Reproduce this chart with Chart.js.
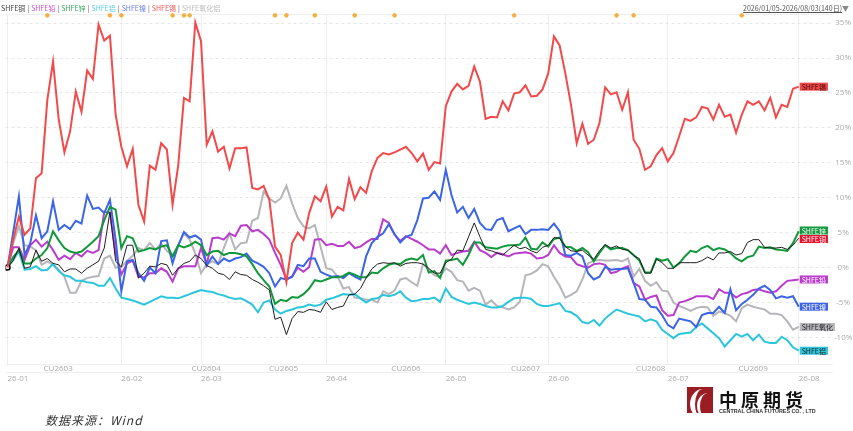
<!DOCTYPE html>
<html>
<head>
<meta charset="utf-8">
<script src="https://cdn.jsdelivr.net/npm/chart.js@4.4.1/dist/chart.umd.min.js"></script>
<style>
body { margin: 0; background: #fff; font-family: "Noto Sans CJK SC", "Noto Sans", sans-serif; }
#wrap { position: relative; width: 853px; height: 431px; overflow: hidden; }
#c { position: absolute; left: 0; top: 0; }
.legend { position: absolute; left: 1px; top: 3px; font-size: 7px; white-space: nowrap; color: #555; }
.legend .sep { color: #555; margin: 0 2px; }
.range { position: absolute; right: 4px; top: 3px; font-size: 7px; color: #555; white-space: nowrap; }
.range u { text-decoration: underline; }
.range span { color: #888; font-size: 7px; }
.source { position: absolute; left: 45px; top: 411px; font-size: 12px; font-style: italic; color: #333; letter-spacing: 1px; }
.logo-icon { position: absolute; left: 687px; top: 387px; width: 26px; height: 26px; background: #9c1c24; overflow: hidden; }
.logo-icon .c1 { position: absolute; left: 3px; top: 2px; width: 26px; height: 30px; border-radius: 50%; border-left: 5px solid #fff; box-sizing: border-box; }
.logo-icon .c2 { position: absolute; left: 10px; top: 6px; width: 22px; height: 26px; border-radius: 50%; border-left: 3px solid #fff; box-sizing: border-box; }
.logo-cn { position: absolute; left: 719px; top: 386px; font-size: 18px; font-weight: bold; letter-spacing: 4px; color: #111; white-space: nowrap; }
.logo-en { position: absolute; left: 719px; top: 408px; font-size: 5.4px; font-weight: bold; color: #333; white-space: nowrap; font-family: "Liberation Sans", sans-serif; }
</style>
</head>
<body>
<div id="wrap">
  <canvas id="c" width="853" height="431"></canvas>
  <div class="legend">
    <span style="color:#444">SHFE铜</span><span class="sep">|</span><span style="color:#d056d0">SHFE铅</span><span class="sep">|</span><span style="color:#3aa860">SHFE锌</span><span class="sep">|</span><span style="color:#5ccfe0">SHFE铝</span><span class="sep">|</span><span style="color:#6a7ee6">SHFE镍</span><span class="sep">|</span><span style="color:#f05a5a">SHFE锡</span><span class="sep">|</span><span style="color:#bbb">SHFE氧化铝</span>
  </div>
  <div class="range"><u>2026/01/05-2026/08/03(140日)</u><span>▼</span></div>
  <div class="source">数据来源：Wind</div>
  <div class="logo-icon"><div class="c1"></div><div class="c2"></div></div>
  <div class="logo-cn">中原期货</div>
  <div class="logo-en">CENTRAL CHINA FUTURES CO. , LTD</div>
</div>
<script>
// x axis = trading day index, 2026/01/05 .. 2026/08/03 (140 days)
var monthTickIdx = [0, 20, 34, 56, 77, 95, 116, 139];
var monthLabels = ['26-01', '26-02', '26-03', '26-04', '26-05', '26-06', '26-07', '26-08'];
var contractIdx = [8.9, 34.9, 48.5, 70, 91, 113, 131];
var contractLabels = ['CU2603', 'CU2604', 'CU2605', 'CU2606', 'CU2607', 'CU2608', 'CU2609'];
var eventIdx = [7, 18, 20, 29, 31, 32, 47, 49, 54, 61, 68, 89, 107, 110, 129];
var yTicks = [-10, -5, 0, 5, 10, 15, 20, 25, 30, 35];

// cumulative change, %
var tin = [0, 4, 7.3, 4.7, 5.6, 12.8, 13.5, 24, 29.5, 21.2, 16.5, 19.5, 25.2, 22.3, 28.2, 27, 34.8, 32.5, 33.2, 21.9,
    17.3, 14.5, 17, 9, 6.6, 14.6, 14, 17.8, 16.9, 9, 14.7, 24.3, 23.8, 35.1, 32.4, 17.6, 19.5, 16.6, 17.3, 14.2,
    17.1, 17.1, 17.2, 11.4, 11.2, 11.7, 9.7, 3, 1.8, -2.1, 3.5, 5, 4, 7.8, 10.2, 9.5, 11.6, 7.3, 8.7, 8.2,
    12.7, 9.8, 11.5, 10.7, 13.8, 15.7, 16.4, 16.2, 16.5, 16.9, 17.3, 16.4, 15.2, 16.3, 14, 15.1, 14.9, 23.1, 25.2, 26.3,
    25.5, 26, 28.8, 26.6, 21.3, 21.6, 21.5, 23.8, 22.5, 24.9, 25.1, 26.1, 24.5, 24.6, 25.5, 27.8, 33.1, 31.8, 27.8, 23.3,
    17.8, 20.6, 17.7, 18.3, 20.7, 25.8, 24.8, 25.1, 22.6, 25.1, 18.3, 17, 14, 14.5, 16.1, 17.1, 15.2, 16.4, 18.8, 21.3,
    21, 21.5, 23, 22.8, 21.2, 23.3, 21.6, 21.9, 19.3, 21.9, 23.8, 23.3, 23.8, 22.5, 24.3, 21.5, 23.3, 23, 25.6, 25.9];
var copper = [0, 1, 2.8, -0.1, 0.1, 2.5, 0.9, 1.3, 0.6, 0.4, -0.6, -0.2, -0.2, -0.8, -0.1, 0.4, 0.9, 2.8, 8, 0.9,
    0.1, 3.2, 3.2, -1.5, -0.8, 0.2, 0.1, 0.6, 0.4, -1.1, -0.1, 0.6, 0.9, 1.8, 1.3, 0.3, -0.1, -0.8, -1, -1.7,
    -0.6, -1, -1.1, -1.7, -2.1, -2.6, -3.2, -7.4, -7.1, -9.6, -7.3, -6.3, -6.4, -6, -6.1, -6.4, -4.9, -6, -5.7, -5.5,
    -3.9, -3.8, -3, -1.5, -0.2, 0.5, 0.7, 0.6, 0.7, 0.2, 0.6, 0.7, 0.7, 0.5, -0.1, -0.8, -0.8, 0.7, 1.2, 2.5,
    2.4, 4.4, 6.4, 4.4, 2.6, 2.4, 2.1, 1.8, 2.5, 3.2, 2.7, 2.9, 2.4, 2.1, 2.9, 3.2, 4.3, 4.2, 3, 2.4,
    2.3, 2.5, 1.8, 1.2, 2.4, 3.3, 2.8, 3.1, 2.6, 2.5, 1.7, 1.3, -0.8, -0.8, 1.2, 0.7, -0.1, -0.1, 0.7, 0.7,
    0.7, 0.7, 1, 1.5, 1.1, 2.1, 2.1, 2.3, 1.8, 2, 3.6, 4, 4, 2.9, 2.8, 2.8, 2.9, 2.6, 3.2, 4.2];
var zinc = [0, 1.5, 2.5, 0.6, 0.6, 1.3, 1.8, 2.8, 5.2, 3.9, 2.8, 2.3, 2.1, 2.3, 3, 3.7, 4.5, 6.8, 8.7, 8.3,
    2.8, 4.5, 4.2, 2.3, 2.5, 2.8, 2.6, 3, 3.2, 1.6, 3.2, 2.9, 3.2, 3.7, 3.2, 1.8, 2.3, 2.4, 1.8, 2.1,
    2.1, 1.9, 1.6, 0.5, -0.8, -1.8, -2.7, -5.2, -4.6, -4.8, -4.2, -4.3, -3.8, -3, -1.8, -2, -1.7, -1.4, -1.4, -1.2,
    -0.7, -1, -1.4, -1.4, -0.7, -0.8, -0.1, 0.4, 0.6, 0.5, 1.1, 1.3, 1.1, 1.8, -0.7, -0.5, -1.5, 1, 1.1, 1.3,
    0.4, 1.8, 3.6, 3.6, 2.9, 2.8, 2.7, 3, 3.2, 3.2, 3.3, 4.3, 2.7, 2.6, 3.6, 3, 4.1, 4.3, 3, 2.9,
    2.4, 2.8, 2.2, 0.9, 2.1, 3.2, 2.6, 2.8, 2.8, 2.5, 1.8, 1, -0.7, -0.7, 1.3, 1, 1.2, 0, 0.6, 1.6,
    2.4, 2.2, 2.8, 3.1, 2.5, 2.8, 2.6, 2.1, 1.3, 0.9, 1.5, 1.7, 3, 2.8, 2.9, 2.6, 2.5, 2.4, 3.5, 5.2];
var nickel = [0, 5, 10.2, 1.8, 3.5, 7.5, 4.2, 5.2, 9.5, 5.4, 6.1, 5.5, 6.7, 6.3, 10.3, 8.4, 8.6, 7.8, 9.7, 4,
    -3.4, 0.9, 1.1, -0.8, -1.9, 0, -0.8, 3.8, 3.9, 0.6, 3.2, 5.1, 4.3, 4.6, 4, 0.3, 1.6, 0.5, 1.3, 0.9,
    1.3, 1.5, 2, 1, 0.6, 0.1, -0.8, -2.7, -1.5, -1.7, -1.3, 0.4, 0.2, 1.3, 1.3, -0.6, -1, -1.3, -1.2, -1.5,
    -0.8, -1.3, -1.7, 1.6, 3.5, 4.4, 4.9, 6.2, 4.8, 3.6, 4.4, 4.7, 6.8, 9.9, 10, 10.9, 9.7, 14, 10.4, 7.9,
    8.7, 7.1, 8.4, 6.4, 5.5, 5.4, 6.8, 7.1, 5.2, 5.6, 6, 4.8, 5.4, 5.4, 5.5, 5.4, 6.3, 5.2, 1.8, 1.7,
    2.1, 1.6, -0.8, -1.7, -1.3, 0.1, -0.3, -0.2, -0.2, -0.1, -2.2, -4.5, -4.6, -5.6, -5.7, -6.8, -8.2, -8.7, -7.3, -7.5,
    -7.7, -8.5, -6.8, -6.5, -6.5, -5.6, -6.5, -3.1, -6.1, -5.2, -4.6, -3.9, -3, -2.6, -3.2, -4.4, -4.1, -4.3, -4.1, -5.6];
var lead = [0, 2.9, 2.9, 1.1, 3.2, 4, 3, 3.7, 2.5, 1.1, 1.7, 1.2, 2.1, 1.6, 2.4, 2.1, 2.5, 8, 7.8, 2,
    -1, 0.6, 1, -1.3, -1.4, -0.8, -0.8, -0.1, -0.6, -2, -0.1, 0.2, 0.2, 0.2, 2.8, 0.4, 4.2, 4.3, 4, 4.9,
    4.5, 6, 6.1, 5.2, 5.4, 4.8, 4, 2.1, 0.4, -1.7, -1.3, 0, -0.6, 0.1, 4, 4.1, 3.2, 3.4, 3.1, 3.1,
    3.7, 2.8, 3, 3.6, 4.1, 4.1, 6.9, 6.4, 4.7, 3.8, 4.5, 4.1, 3.7, 3.2, 2.6, 2.6, 2, 3.2, 1.8, 2.1,
    2.3, 2.4, 3.7, 2.5, 2.1, 1.5, 2.1, 1.9, 1.6, 2, 2.1, 2.2, 2, 1.3, 1.4, 1.8, 3.2, 2.1, 1.6, 1.5,
    0.5, 0.2, 0, 0.5, 0.6, 0.4, -0.8, -0.6, -0.1, 0.2, -2.2, -2.7, -4.6, -4.2, -4, -6.1, -6.9, -6.8, -5, -4.8,
    -4.5, -4.1, -4.1, -4.1, -4.5, -3.1, -3.6, -3.6, -4.3, -3.8, -3.6, -3.2, -3.1, -3.4, -3.6, -3.4, -2.6, -1.9, -1.8, -1.7];
var aluminium = [0, 1.1, 2.3, -0.3, -0.2, 0.2, -0.4, -0.3, 0.5, -0.5, -1.1, -1.3, -1.9, -1.9, -2.1, -2.2, -2.6, -2.6, -1.5, -3,
    -4.3, -4.5, -4.7, -5, -5.3, -4.9, -4.5, -4.1, -4.3, -4.3, -4.4, -4.1, -3.8, -3.5, -3.2, -3.4, -3.5, -3.8, -4, -4.3,
    -4.5, -4.4, -4.8, -5.3, -6.4, -5, -4.7, -6, -6.6, -6.2, -6, -5.7, -5.6, -5.3, -5.5, -5.3, -4.6, -4.4, -4.1, -3.8,
    -3.9, -3.8, -4.4, -5, -4.5, -4.4, -3.9, -4.1, -3.9, -3.4, -4.3, -4.8, -4.7, -4.5, -4.5, -4.3, -4.9, -3, -4.2, -4.6,
    -4.9, -5.2, -5, -5.2, -5.5, -5.7, -5.7, -5.5, -4.9, -4.4, -4.3, -4.3, -4.5, -5.2, -5.5, -5.5, -5.3, -5.1, -6.2, -6.4,
    -6.9, -7.8, -8, -7.5, -8.3, -7.3, -6.6, -6, -6.3, -6.6, -6.8, -7, -7.7, -7.4, -7.7, -8.9, -9.5, -10.1, -9.5, -9.4,
    -9.3, -8.5, -8, -8.7, -9.4, -10.1, -11.3, -10.4, -9.5, -9.9, -9.5, -10.4, -9.6, -10.6, -10.8, -10.8, -9.9, -10.4, -11.4, -11.9];
var alumina = [0, 3.5, 5.9, 3.2, 3, 2.5, 0.4, 0.9, 0.4, -0.3, -1.3, -3.6, -3.6, -1.9, -1.5, -1.3, -1.2, 1.3, 1.7, 0,
    0.1, 1, 1.7, 2.8, 2.5, 3.5, 2.6, 3.4, 2.4, 1.7, 3.2, 4.9, 4, 2, -0.8, 0.5, 0.9, 0.5, 2.8, 4.9,
    2.6, 3.5, 3.6, 6.7, 7.1, 10.9, 9.9, 9.3, 9.9, 11.7, 9.2, 7.1, 5.9, 5.6, 6.1, 3, -0.1, -0.3, -1.3, -3,
    -2.8, -4.3, -4.4, -4.6, -4.6, -5, -3.4, -3.8, -3.3, -1.7, -1.5, -2.1, -2.6, 0.5, -0.3, -1.1, -1.3, -0.1, -0.6, -1.8,
    -2, -3.3, -2.9, -3.3, -5.3, -4.7, -5.5, -5.7, -6, -5.7, -4.9, -1.1, -0.9, -0.4, 0.5, 0.2, -1.3, -2.6, -4.3, -3.9,
    -3.4, -1.7, 0.6, 1, 1.1, 1, 1, 1.1, 0.9, 1.3, -1.3, -0.2, -1.9, -2.6, -2.1, -3.3, -3.4, -5, -5.5, -5.8,
    -6.2, -5.8, -5.6, -5.7, -6.9, -6.3, -6.5, -6.9, -7.7, -5.8, -5.3, -5.6, -5.8, -6, -6.6, -6.6, -6.8, -7.7, -8.9, -8.5];

var X_MIN = -0.35, X_MAX = 144.85;

function pts(arr) {
    return arr.map(function (v, i) { return { x: i, y: v }; });
}

function line(label, arr, color, width, endLabel, labelBg, labelFg) {
    return {
        label: label,
        data: pts(arr),
        borderColor: color,
        borderWidth: width,
        pointRadius: 0,
        tension: 0,
        fill: false,
        endLabel: endLabel,
        labelBg: labelBg,
        labelFg: labelFg
    };
}

// first dataset is drawn on top
var datasets = [
    line('SHFE锡', tin, '#f24a4a', 2, 'SHFE锡', '#f04848', '#3a0a0a'),
    line('SHFE铜', copper, '#1e1e1e', 1, 'SHFE铜', '#e8112d', '#fff'),
    line('SHFE锌', zinc, '#11983a', 2, 'SHFE锌', '#11983a', '#fff'),
    line('SHFE镍', nickel, '#3b64e6', 2, 'SHFE镍', '#3b64e6', '#fff'),
    line('SHFE铅', lead, '#b93ccc', 2, 'SHFE铅', '#b93ccc', '#fff'),
    line('SHFE铝', aluminium, '#2cc6dc', 2, 'SHFE铝', '#2cc6dc', '#222'),
    line('SHFE氧化铝', alumina, '#b5b5ba', 2, 'SHFE氧化', '#b9b9bd', '#222')
];
datasets[1].pointRadius = function (ctx) { return ctx.dataIndex === 0 ? 2.5 : 0; };
datasets[1].pointBackgroundColor = '#fff';
datasets[1].pointBorderColor = '#000';
datasets[1].pointBorderWidth = 1.5;

datasets.push({
    label: 'events',
    data: eventIdx.map(function (i) { return { x: i, y: 36.1 }; }),
    showLine: false,
    pointStyle: 'star',
    pointRadius: 2.3,
    borderColor: '#f5b041',
    backgroundColor: '#f5b041',
    borderWidth: 1.2,
    clip: false
});

var endLabelPlugin = {
    id: 'endLabels',
    afterDatasetsDraw: function (chart) {
        var ctx = chart.ctx, items = [];
        chart.data.datasets.forEach(function (ds, i) {
            if (!ds.endLabel) return;
            var meta = chart.getDatasetMeta(i);
            var pt = meta.data[meta.data.length - 1];
            items.push({ ds: ds, x: pt.x, y: pt.y });
        });
        items.sort(function (a, b) { return a.y - b.y; });
        for (var k = 1; k < items.length; k++) {
            var gap = items[k].y - items[k - 1].y;
            if (gap < 8.5) {
                var d = (8.5 - gap) / 2;
                items[k].y += d;
                items[k - 1].y -= d;
            }
        }
        ctx.save();
        ctx.font = '7px "Noto Sans CJK SC"';
        ctx.textBaseline = 'middle';
        items.forEach(function (it) {
            var w = ctx.measureText(it.ds.endLabel).width + 4;
            ctx.fillStyle = it.ds.labelBg;
            ctx.fillRect(it.x + 1, it.y - 4, w, 8);
            ctx.fillStyle = it.ds.labelFg;
            ctx.fillText(it.ds.endLabel, it.x + 3, it.y + 0.5);
        });
        ctx.restore();
    }
};

var topLinePlugin = {
    id: 'topLine',
    beforeDatasetsDraw: function (chart) {
        var ctx = chart.ctx, a = chart.chartArea;
        ctx.save();
        ctx.strokeStyle = '#eeeeee';
        ctx.lineWidth = 1;
        ctx.beginPath();
        ctx.moveTo(a.left, a.top + 0.5);
        ctx.lineTo(a.right, a.top + 0.5);
        ctx.stroke();
        ctx.restore();
    }
};

new Chart(document.getElementById('c'), {
    type: 'line',
    data: { datasets: datasets },
    options: {
        responsive: false,
        animation: false,
        layout: { padding: { left: 0, right: 0, top: 14, bottom: 46 } },
        plugins: { legend: { display: false }, tooltip: { enabled: false } },
        scales: {
            x: {
                type: 'linear', position: 'bottom', min: X_MIN, max: X_MAX, weight: 0,
                grid: { display: false, drawTicks: false },
                border: { display: true, color: '#eeeeee' },
                afterBuildTicks: function (s) { s.ticks = contractIdx.map(function (v) { return { value: v }; }); },
                afterFit: function (s) { s.height = 8; },
                ticks: {
                    autoSkip: false, maxRotation: 0, color: '#aaa', padding: 0,
                    font: { size: 8, family: '"Open Sans", sans-serif' },
                    callback: function (v, i) { return contractLabels[i]; }
                }
            },
            xd: {
                type: 'linear', position: 'bottom', min: X_MIN, max: X_MAX, weight: 1,
                grid: { color: '#eeeeee', drawTicks: false },
                border: { display: true, color: '#eeeeee' },
                afterBuildTicks: function (s) { s.ticks = monthTickIdx.map(function (v) { return { value: v }; }); },
                afterFit: function (s) { s.height = 13; },
                ticks: {
                    autoSkip: false, maxRotation: 0, align: 'start', color: '#aaa', padding: 2,
                    font: { size: 8, family: '"Open Sans", sans-serif' },
                    callback: function (v, i) { return monthLabels[i]; }
                }
            },
            y: {
                position: 'right', min: -13.8, max: 36.3,
                grid: { color: '#e6e6e6', drawTicks: false },
                border: { display: false, dash: [3, 3] },
                afterBuildTicks: function (s) { s.ticks = yTicks.map(function (v) { return { value: v }; }); },
                afterFit: function (s) { s.width = 21; },
                ticks: {
                    color: '#aaa', padding: 2, crossAlign: 'center',
                    font: { size: 8, family: '"Open Sans", sans-serif' },
                    callback: function (v) { return v + '%'; }
                }
            }
        }
    },
    plugins: [endLabelPlugin, topLinePlugin]
});
</script>
</body>
</html>
